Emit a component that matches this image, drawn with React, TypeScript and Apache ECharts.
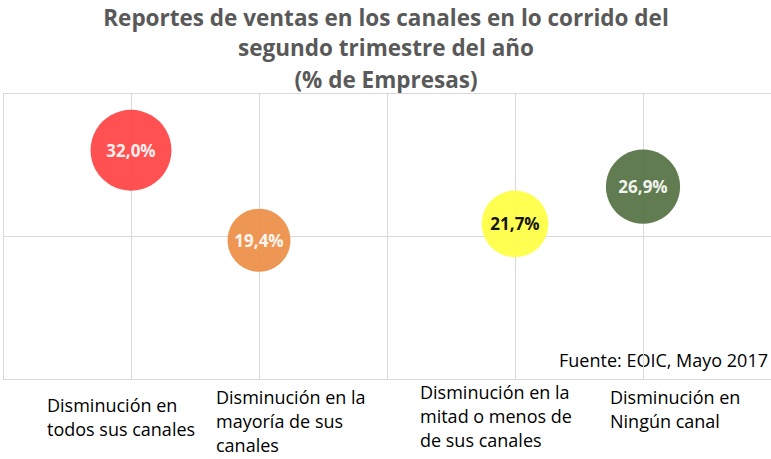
import React, { useEffect, useRef } from "react";
import * as echarts from "echarts";

const categories = [
  "Disminución en\ntodos sus canales",
  "Disminución en la\nmayoría de sus\ncanales",
  "Disminución en la\nmitad o menos de\nde sus canales",
  "Disminución en\nNingún canal",
];
const xPositions = [1, 2, 4, 5];
const values = [32.0, 19.4, 21.7, 26.9];
const colors = ["#FF4444", "#ED8F48", "#FFFF44", "#567244"];
const labelColors = ["#ffffff", "#ffffff", "#000000", "#ffffff"];
const titleLines = [
  "Reportes de ventas en los canales en lo corrido del",
  "segundo trimestre del año",
  "(% de Empresas)",
];
const sourceText = "Fuente: EOIC, Mayo 2017";

const labelPos = [
  { x: 47, y: 393 },
  { x: 216, y: 385 },
  { x: 420, y: 380 },
  { x: 610, y: 385 },
];
const titleY = [17, 47, 79];

export default function App() {
  const ref = useRef<HTMLDivElement>(null);
  useEffect(() => {
    if (!ref.current) return;
    const chart = echarts.init(ref.current, null, { renderer: "svg" });
    const font = "'Open Sans', Lato, sans-serif";
    chart.setOption({
      animation: false,
      backgroundColor: "#ffffff",
      grid: { left: 3, right: 0, top: 93, bottom: 80, containLabel: false },
      xAxis: {
        type: "value",
        min: 0,
        max: 6,
        interval: 1,
        axisLine: { show: false },
        axisTick: { show: false },
        axisLabel: { show: false },
        splitLine: { show: true, lineStyle: { color: "#d9d9d9", width: 1 } },
      },
      yAxis: {
        type: "value",
        min: 0,
        max: 40,
        interval: 20,
        axisLine: { show: false },
        axisTick: { show: false },
        axisLabel: { show: false },
        splitLine: { show: true, lineStyle: { color: "#d9d9d9", width: 1 } },
      },
      series: [
        {
          type: "scatter",
          data: values.map((v, i) => ({
            value: [xPositions[i], v],
            itemStyle: { color: colors[i], opacity: 0.93 },
            label: {
              show: true,
              position: "inside",
              formatter: v.toFixed(1).replace(".", ",") + "%",
              color: labelColors[i],
              fontFamily: font,
              fontWeight: "bold",
              fontSize: 17,
            },
          })),
          symbolSize: (d: number[]) => 14.3 * Math.sqrt(d[1]),
        },
      ],
      graphic: [
        ...titleLines.map((t, i) => ({
          type: "text",
          x: 386,
          y: titleY[i],
          style: {
            text: t,
            fill: "#595959",
            font: `bold 22.5px ${font}`,
            textAlign: "center",
            textVerticalAlign: "middle",
          },
        })),
        ...categories.map((c, i) => ({
          type: "text",
          x: labelPos[i].x,
          y: labelPos[i].y,
          style: {
            text: c,
            fill: "#000000",
            font: `18px ${font}`,
            lineHeight: 24,
            textAlign: "left",
          },
        })),
        {
          type: "text",
          x: 768,
          y: 360,
          style: {
            text: sourceText,
            fill: "#000000",
            font: `18px ${font}`,
            textAlign: "right",
            textVerticalAlign: "middle",
          },
        },
      ],
    });
    return () => chart.dispose();
  }, []);
  return (
    <div
      ref={ref}
      style={{ position: "fixed", left: 0, top: 0, width: 771, height: 459 }}
    />
  );
}
